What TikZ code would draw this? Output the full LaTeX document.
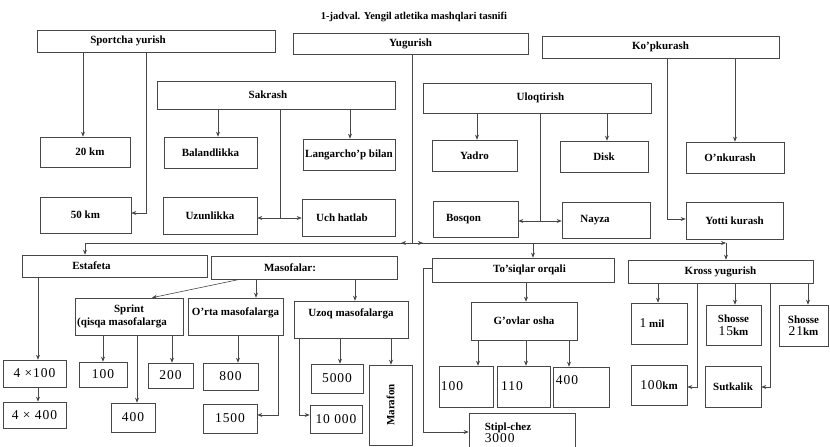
\documentclass[tikz,border=0pt]{standalone}
\usepackage{fontspec}
\usepackage{graphicx}
\setmainfont{Liberation Serif}
\newfontfamily\numfont[LetterSpace=7]{Liberation Serif}
\usetikzlibrary{arrows.meta}
\newcommand\numtxt[1]{{\numfont\fontsize{13.5}{14}\selectfont\mdseries #1}}
\newcommand\bx[7][]{%
  \pgfmathsetmacro\bxcx{(#3+#5)/2}%
  \pgfmathsetmacro\bxcy{(#4+#6)/2}%
  \pgfmathsetmacro\bxw{#5-#3}%
  \pgfmathsetmacro\bxh{#6-#4}%
  \node[box,minimum width=\bxw pt,minimum height=\bxh pt,#1] (#2) at (\bxcx,\bxcy) {#7};}
\begin{document}
\begin{tikzpicture}[x=1pt,y=-1pt,
  box/.style={draw=black!72, line width=0.6pt, font=\bfseries\fontsize{11}{12.5}\selectfont, inner sep=1pt},
  num/.style={font=\numfont\fontsize{13.5}{14}\selectfont},
  ln/.style={draw=black!72, line width=0.6pt},
  arr/.style={ln, -{Stealth[length=5pt,width=4pt]}}]
\useasboundingbox (0,0) rectangle (830,447);
\node[font=\bfseries\fontsize{10.5}{12}\selectfont] (title) at (414,17) {1-jadval. Yengil atletika mashqlari tasnifi};
% top level
\bx{spy}{37}{30}{275}{52}{Sportcha yurish\kern56pt}
\bx{yug}{293}{33}{528}{54}{Yugurish}
\bx{kop}{542}{36}{779}{58}{Ko'pkurash}
\bx{sak}{157}{81}{395}{109}{Sakrash\kern16pt}
\bx{ulo}{423}{83}{651}{113}{\kern7pt Uloqtirish}
% second row
\bx{km20}{40}{137}{130}{167}{\kern10pt 20 km}
\bx{bal}{164}{137}{257}{168}{Balandlikka}
\bx{lan}{303}{139}{395}{170}{Langarcho'p bilan}
\bx{yad}{432}{140}{517}{171}{Yadro}
\bx{dis}{560}{141}{648}{172}{Disk}
\bx{onk}{686}{142}{784}{173}{O'nkurash\kern10pt}
% third row
\bx{km50}{40}{197}{131}{233}{50 km}
\bx{uzu}{163}{197}{257}{234}{Uzunlikka}
\bx{uch}{302}{199}{395}{236}{Uch hatlab\kern13pt}
\bx{bos}{433}{201}{518}{237}{Bosqon\kern24pt}
\bx{nay}{562}{202}{650}{238}{Nayza\kern22pt}
\bx{yot}{686}{202}{783}{239}{Yotti kurash}
% lower groups
\bx{est}{22}{255}{207}{277}{Estafeta\kern46pt}
\bx{mas}{211}{256}{397}{279}{Masofalar:\kern28pt}
\bx{tos}{432}{258}{614}{282}{\kern13pt To'siqlar orqali}
\bx{kro}{628}{260}{813}{283}{Kross yugurish}
\bx[align=center]{spr}{75}{298}{183}{335}{Sprint\\(qisqa masofalarga\kern14pt}
\bx[text depth=9pt]{ort}{188}{298}{283}{335}{O'rta masofalarga}
\bx[text depth=14pt]{uzo}{294}{301}{408}{338}{Uzoq masofalarga}
\bx{gov}{471}{302}{577}{340}{G'ovlar osha}
\bx{mil}{631}{303}{687}{344}{\numtxt{1} mil\kern14pt}
\bx[align=center]{shA}{706}{305}{761}{345}{Shosse\\\numtxt{15}km}
\bx[align=center]{shB}{779}{305}{828}{346}{Shosse\\\numtxt{21}km}
% numbers
\bx[num]{est1}{3}{360}{66}{387}{4 ×100}
\bx[num]{est2}{3}{402}{66}{428}{4 × 400}
\bx[num]{s100}{79}{362}{127}{387}{100}
\bx[num]{s200}{148}{363}{193}{388}{200}
\bx[num]{s400}{111}{403}{155}{432}{400}
\bx[num]{o800}{203}{363}{258}{390}{800}
\bx[num]{o1500}{203}{404}{257}{433}{1500}
\bx[num]{u5000}{311}{364}{363}{393}{5000}
\bx[num]{u10000}{310}{405}{362}{433}{10 000}
\bx{mar}{369}{365}{412}{445}{\rotatebox{90}{Marafon}}
\bx[num]{g100}{439}{366}{493}{407}{100\kern28pt}
\bx[num]{g110}{497}{366}{550}{407}{110\kern23pt}
\bx[num,text depth=14pt]{g400}{553}{367}{609}{407}{400\kern28pt}
\bx{k100}{631}{365}{687}{405}{\numtxt{100}km}
\bx{sut}{705}{366}{761}{407}{Sutkalik}
\bx[align=left]{sti}{469}{413}{575}{452}{Stipl-chez\kern28pt\\\numtxt{3000}}
% connectors: top
\draw[arr] (83,0 |- spy.south) -- (83,0 |- km20.north);
\draw[arr] (146,0 |- spy.south) |- (km50.east |- 0,213);
\draw[arr] (218,0 |- sak.south) -- (218,0 |- bal.north);
\draw[arr] (350,0 |- sak.south) -- (350,0 |- lan.north);
\coordinate (sj) at (280,218);
\draw[ln] (280,0 |- sak.south) -- (sj);
\draw[arr] (sj) -- (uzu.east |- sj);
\draw[arr] (sj) -- (uch.west |- sj);
\draw[arr] (477,0 |- ulo.south) -- (477,0 |- yad.north);
\draw[arr] (607,0 |- ulo.south) -- (607,0 |- dis.north);
\coordinate (uj) at (540,221);
\draw[ln] (540,0 |- ulo.south) -- (uj);
\draw[arr] (uj) -- (bos.east |- uj);
\draw[arr] (uj) -- (nay.west |- uj);
\draw[arr] (735,0 |- kop.south) -- (735,0 |- onk.north);
\draw[arr] (667,0 |- kop.south) |- (yot.west |- 0,219);
% main distribution line
\coordinate (jn) at (412,243);
\draw[ln] (412,0 |- yug.south) -- (jn);
\draw[arr] (jn) -| (85,0 |- est.north);
\draw[arr] (jn) -- ++(-11,0);
\draw[arr] (jn) -- ++(11,0);
\draw[arr] (jn) -- (726,243);
\draw[arr] (726,243) -- (726,0 |- kro.north);
\draw[arr] (533,243) -- (533,0 |- tos.north);
% lower connectors
\draw[arr] (240,0 |- mas.south) -- (152,0 |- spr.north);
\draw[arr] (256,0 |- mas.south) -- (256,0 |- ort.north);
\draw[arr] (355,0 |- mas.south) -- (355,0 |- uzo.north);
\draw[arr] (38,0 |- est.south) -- (38,0 |- est1.north);
\draw[arr] (38,0 |- est1.south) -- (38,0 |- est2.north);
\draw[arr] (103,0 |- spr.south) -- (103,0 |- s100.north);
\draw[arr] (172,0 |- spr.south) -- (172,0 |- s200.north);
\draw[arr] (137,0 |- spr.south) -- (137,0 |- s400.north);
\draw[arr] (238,0 |- ort.south) -- (238,0 |- o800.north);
\draw[arr] (278,0 |- ort.south) |- (o1500.east |- 0,415);
\draw[arr] (340,0 |- uzo.south) -- (340,0 |- u5000.north);
\draw[arr] (391,0 |- uzo.south) -- (391,0 |- mar.north);
\draw[arr] (299,0 |- uzo.south) |- (u10000.west |- 0,415);
\draw[arr] (526,0 |- tos.south) -- (526,0 |- gov.north);
\draw[arr] (478,0 |- gov.south) -- (478,0 |- g100.north);
\draw[arr] (526,0 |- gov.south) -- (526,0 |- g110.north);
\draw[arr] (569,0 |- gov.south) -- (569,0 |- g400.north);
\draw[arr] (tos.west |- 0,268) -- (423,268) |- (sti.west |- 0,432);
\draw[arr] (658,0 |- kro.south) -- (658,0 |- mil.north);
\draw[arr] (697,0 |- kro.south) |- (k100.east |- 0,387);
\draw[arr] (735,0 |- kro.south) -- (735,0 |- shA.north);
\draw[arr] (770,0 |- kro.south) |- (sut.east |- 0,387);
\draw[arr] (808,0 |- kro.south) -- (808,0 |- shB.north);
\end{tikzpicture}
\end{document}
